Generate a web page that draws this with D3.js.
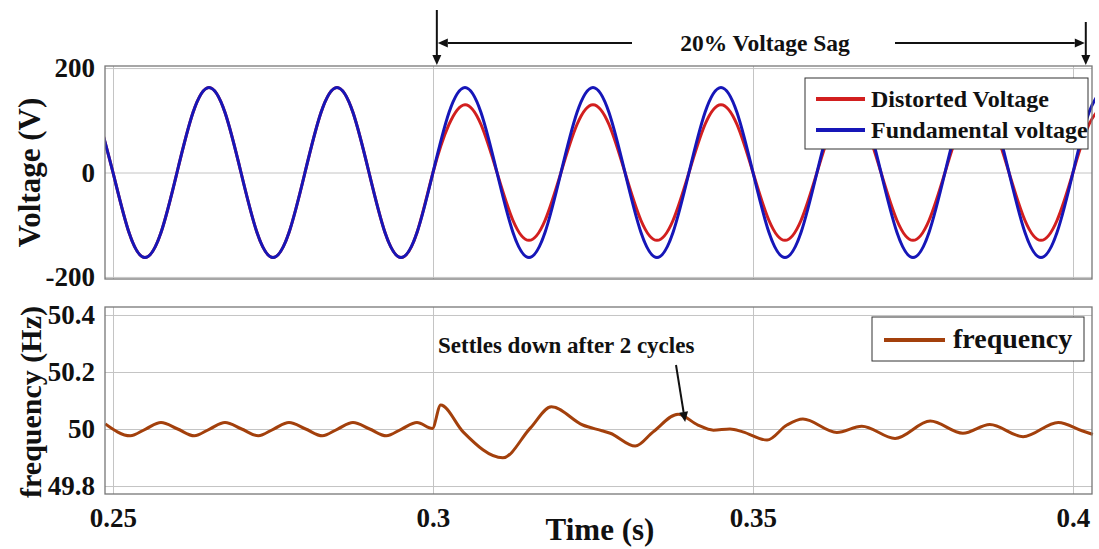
<!DOCTYPE html>
<html>
<head>
<meta charset="utf-8">
<script src="https://cdn.jsdelivr.net/npm/d3@7"></script>
<style>
  body { margin: 0; background: #fff; }
  svg text { font-family: "Liberation Serif", "Times New Roman", serif; font-weight: bold; fill: #111; }
</style>
</head>
<body>
<svg id="chart" width="1099" height="549"></svg>
<script>
// sample times of the voltage traces (s)
const voltageTime = [
  0.2475, 0.25, 0.2525, 0.255, 0.2575, 0.26, 0.2625, 0.265,
  0.2675, 0.27, 0.2725, 0.275, 0.2775, 0.28, 0.2825, 0.285,
  0.2875, 0.29, 0.2925, 0.295, 0.2975, 0.3, 0.3025, 0.305,
  0.3075, 0.31, 0.3125, 0.315, 0.3175, 0.32, 0.3225, 0.325,
  0.3275, 0.33, 0.3325, 0.335, 0.3375, 0.34, 0.3425, 0.345,
  0.3475, 0.35, 0.3525, 0.355, 0.3575, 0.36, 0.3625, 0.365,
  0.3675, 0.37, 0.3725, 0.375, 0.3775, 0.38, 0.3825, 0.385,
  0.3875, 0.39, 0.3925, 0.395, 0.3975, 0.4, 0.4025, 0.405
];
const fundamentalVoltage = [
  115, 0, -115, -163, -115, 0, 115, 163,
  115, 0, -115, -163, -115, 0, 115, 163,
  115, 0, -115, -163, -115, 0, 115, 163,
  115, 0, -115, -163, -115, 0, 115, 163,
  115, 0, -115, -163, -115, 0, 115, 163,
  115, 0, -115, -163, -115, 0, 115, 163,
  115, 0, -115, -163, -115, 0, 115, 163,
  115, 0, -115, -163, -115, 0, 115, 163
];
const distortedVoltage = [
  115, 0, -115, -163, -115, 0, 115, 163,
  115, 0, -115, -163, -115, 0, 115, 163,
  115, 0, -115, -163, -115, 0, 92, 130,
  92, 0, -92, -130, -92, 0, 92, 130,
  92, 0, -92, -130, -92, 0, 92, 130,
  92, 0, -92, -130, -92, 0, 92, 130,
  92, 0, -92, -130, -92, 0, 92, 130,
  92, 0, -92, -130, -92, 0, 92, 130
];

// frequency estimate (Hz)
const freqTime = [
  0.2488, 0.2527, 0.2551, 0.2575, 0.2601, 0.2627, 0.2651, 0.2675, 0.2701, 0.2727,
  0.2751, 0.2775, 0.2801, 0.2827, 0.2851, 0.2875, 0.2901, 0.2927, 0.2951, 0.2975,
  0.2999, 0.3012, 0.3047, 0.3109, 0.3152, 0.3185, 0.3234, 0.3264, 0.3277, 0.3316,
  0.3344, 0.3383, 0.3414, 0.3438, 0.3464, 0.3484, 0.3522, 0.3553, 0.3578, 0.3631,
  0.3670, 0.3722, 0.3777, 0.3828, 0.3870, 0.3922, 0.3977, 0.4014, 0.4031
];
const freqValue = [
  50.018, 49.976, 50.0, 50.023, 50.0, 49.976, 50.0, 50.023, 50.0, 49.976,
  50.0, 50.023, 50.0, 49.976, 50.0, 50.023, 50.0, 49.976, 50.0, 50.023,
  50.002, 50.084, 49.99, 49.899, 50.003, 50.078, 50.014, 49.994, 49.985, 49.94,
  49.99, 50.052, 50.014, 49.996, 50.0, 49.99, 49.961, 50.014, 50.035, 49.988,
  50.01, 49.967, 50.028, 49.985, 50.016, 49.973, 50.023, 49.994, 49.981
];

const timeTicks = [0.25, 0.3, 0.35, 0.4];
const timeTickLabels = ['0.25', '0.3', '0.35', '0.4'];
const voltageTicks = [-200, 0, 200];
const voltageTickLabels = ['-200', '0', '200'];
const freqTicks = [49.8, 50, 50.2, 50.4];
const freqTickLabels = ['49.8', '50', '50.2', '50.4'];

const sagStart = 0.3006, sagEnd = 0.4020;

const colors = { distorted: '#d21f1f', fundamental: '#1616b8', freq: '#a3400c' };
const serif = '"Liberation Serif", "Times New Roman", serif';

const svg = d3.select('#chart');
svg.append('rect').attr('width', 1099).attr('height', 549).attr('fill', '#fff');

/**
 * Panel geometry
 */
const left = 105, right = 1092;
const topPanel = { top: 66, bottom: 279 };
const botPanel = { top: 307, bottom: 494 };

const x = d3.scaleLinear().domain([0.24875, 0.40297]).range([left, right]);
const yV = d3.scaleLinear().domain([-204, 204]).range([topPanel.bottom, topPanel.top]);
const yF = d3.scaleLinear().domain([49.772, 50.428]).range([botPanel.bottom, botPanel.top]);

function styleTickText(g) {
  g.selectAll('text')
    .attr('font-size', 27)
    .attr('font-family', serif)
    .attr('font-weight', 'bold')
    .attr('fill', '#111');
}

function drawPanel(panel, yScale, yTicks, yLabels, id) {
  const h = panel.bottom - panel.top;
  const w = right - left;

  // grid
  svg.append('g')
    .attr('transform', `translate(0,${panel.bottom})`)
    .call(d3.axisBottom(x).tickValues(timeTicks).tickSize(-h).tickFormat(''))
    .call(g => g.select('.domain').remove())
    .call(g => g.selectAll('line').attr('stroke', '#c4c4c4').attr('stroke-width', 1));
  svg.append('g')
    .attr('transform', `translate(${left},0)`)
    .call(d3.axisLeft(yScale).tickValues(yTicks).tickSize(-w).tickFormat(''))
    .call(g => g.select('.domain').remove())
    .call(g => g.selectAll('line').attr('stroke', '#c4c4c4').attr('stroke-width', 1));

  // y tick labels
  svg.append('g')
    .attr('transform', `translate(${left},0)`)
    .call(d3.axisLeft(yScale).tickValues(yTicks).tickSize(0).tickPadding(10)
      .tickFormat((d, i) => yLabels[i]))
    .call(g => g.select('.domain').remove())
    .call(styleTickText);

  svg.append('clipPath').attr('id', id)
    .append('rect')
    .attr('x', left).attr('y', panel.top)
    .attr('width', w + 3).attr('height', h);
}

function drawFrame(panel) {
  svg.append('rect')
    .attr('x', left).attr('y', panel.top)
    .attr('width', right - left).attr('height', panel.bottom - panel.top)
    .attr('fill', 'none').attr('stroke', '#777').attr('stroke-width', 1.3);
}

drawPanel(topPanel, yV, voltageTicks, voltageTickLabels, 'clipTop');
drawPanel(botPanel, yF, freqTicks, freqTickLabels, 'clipBot');

/**
 * Voltage traces
 */
const vLine = (vals) => d3.line()
  .x((d, i) => x(voltageTime[i]))
  .y((d) => yV(d))
  .curve(d3.curveNatural)(vals);

const gTop = svg.append('g').attr('clip-path', 'url(#clipTop)');
gTop.append('path').attr('d', vLine(distortedVoltage))
  .attr('fill', 'none').attr('stroke', colors.distorted).attr('stroke-width', 3);
gTop.append('path').attr('d', vLine(fundamentalVoltage))
  .attr('fill', 'none').attr('stroke', colors.fundamental).attr('stroke-width', 3);

drawFrame(topPanel);

/**
 * Frequency trace
 */
const fLine = d3.line()
  .x((d, i) => x(freqTime[i]))
  .y((d) => yF(d))
  .curve(d3.curveMonotoneX);

svg.append('g').attr('clip-path', 'url(#clipBot)')
  .append('path').attr('d', fLine(freqValue))
  .attr('fill', 'none').attr('stroke', colors.freq).attr('stroke-width', 3);

drawFrame(botPanel);

/**
 * x axis labels (bottom panel only)
 */
svg.append('g')
  .attr('transform', `translate(0,${botPanel.bottom})`)
  .call(d3.axisBottom(x).tickValues(timeTicks).tickSize(0).tickPadding(14)
    .tickFormat((d, i) => timeTickLabels[i]))
  .call(g => g.select('.domain').remove())
  .call(styleTickText);

svg.append('text').attr('x', 600).attr('y', 540)
  .attr('text-anchor', 'middle').attr('font-size', 31).text('Time (s)');

svg.append('text')
  .attr('transform', `translate(29,${(topPanel.top + topPanel.bottom) / 2}) rotate(-90)`)
  .attr('text-anchor', 'middle').attr('dy', '0.35em')
  .attr('font-size', 31).text('Voltage (V)');

svg.append('text')
  .attr('transform', `translate(30,402) rotate(-90)`)
  .attr('text-anchor', 'middle').attr('dy', '0.35em')
  .attr('font-size', 30).text('frequency (Hz)');

/**
 * Legends
 */
const legTop = svg.append('g');
legTop.append('rect').attr('x', 805).attr('y', 78).attr('width', 283).attr('height', 71)
  .attr('fill', '#fff').attr('stroke', '#333').attr('stroke-width', 1);
[['Distorted Voltage', colors.distorted, 99], ['Fundamental voltage', colors.fundamental, 130]]
  .forEach(([label, c, yy]) => {
    legTop.append('line').attr('x1', 816).attr('x2', 865).attr('y1', yy).attr('y2', yy)
      .attr('stroke', c).attr('stroke-width', 4);
    legTop.append('text').attr('x', 871).attr('y', yy + 8).attr('font-size', 24).text(label);
  });

const legBot = svg.append('g');
legBot.append('rect').attr('x', 872).attr('y', 317).attr('width', 212).attr('height', 44)
  .attr('fill', '#fff').attr('stroke', '#333').attr('stroke-width', 1);
legBot.append('line').attr('x1', 884).attr('x2', 945).attr('y1', 340).attr('y2', 340)
  .attr('stroke', colors.freq).attr('stroke-width', 4);
legBot.append('text').attr('x', 953).attr('y', 348).attr('font-size', 28).text('frequency');

/**
 * Annotations
 */
function arrow(x1, y1, x2, y2) {
  const dx = x2 - x1, dy = y2 - y1;
  const len = Math.hypot(dx, dy);
  const ux = dx / len, uy = dy / len;
  const hl = 10, hw = 4.5;
  const bx = x2 - ux * hl, by = y2 - uy * hl;
  svg.append('line').attr('x1', x1).attr('y1', y1).attr('x2', bx).attr('y2', by)
    .attr('stroke', '#111').attr('stroke-width', 2);
  svg.append('path')
    .attr('d', `M${x2},${y2}L${bx - uy * hw},${by + ux * hw}L${bx + uy * hw},${by - ux * hw}Z`)
    .attr('fill', '#111');
}

arrow(x(sagStart), 10, x(sagStart), 65);
arrow(x(sagEnd), 22, x(sagEnd), 65);
arrow(632, 43, x(sagStart) + 1, 43);
arrow(895, 43, x(sagEnd) - 1, 43);

svg.append('text').attr('x', 765).attr('y', 51)
  .attr('text-anchor', 'middle').attr('font-size', 23.5).text('20% Voltage Sag');

svg.append('text').attr('x', 438).attr('y', 353)
  .attr('font-size', 23).text('Settles down after 2 cycles');
arrow(676, 365, x(0.3394), yF(50.025));
</script>
</body>
</html>
